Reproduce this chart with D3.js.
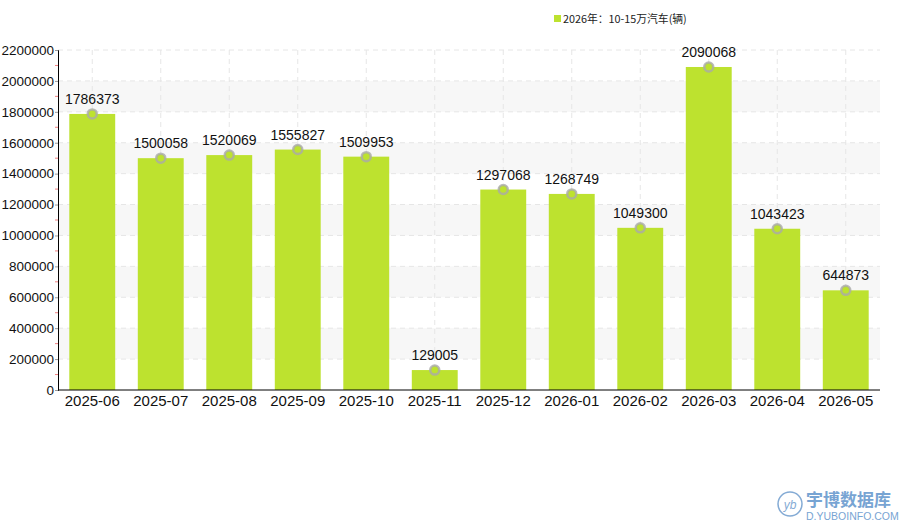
<!DOCTYPE html>
<html><head><meta charset="utf-8">
<script src="https://cdn.jsdelivr.net/npm/d3@7"></script>
<style>body{margin:0;background:#fff;}svg{display:block;font-family:"Liberation Sans",Arial,sans-serif;}</style>
</head><body>
<script>
const categories=["2025-06","2025-07","2025-08","2025-09","2025-10","2025-11","2025-12","2026-01","2026-02","2026-03","2026-04","2026-05"];
const values=[1786373,1500058,1520069,1555827,1509953,129005,1297068,1268749,1049300,2090068,1043423,644873];
const yTicks=[0,200000,400000,600000,800000,1000000,1200000,1400000,1600000,1800000,2000000,2200000];
const seriesName="2026年：10-15万汽车(辆)";

const W=900,H=530,L=58,R=880,T=50,B=390;
const svg=d3.select("body").append("svg").attr("width",W).attr("height",H);
const x=d3.scaleBand().domain(categories).range([L,R]).paddingInner(0.33).paddingOuter(0.165);
const y=d3.scaleLinear().domain([0,2200000]).range([B,T]);

// bands
for(let i=1;i<yTicks.length-1;i+=2){
  svg.append("rect").attr("x",L).attr("width",R-L).attr("y",y(yTicks[i+1])).attr("height",y(yTicks[i])-y(yTicks[i+1])).attr("fill","#f7f7f7");
}
// horizontal grid
svg.append("g").selectAll("line").data(yTicks.slice(1)).join("line")
 .attr("x1",L).attr("x2",R).attr("y1",d=>y(d)).attr("y2",d=>y(d))
 .attr("stroke","#e6e6e6").attr("stroke-dasharray","5,4");
// vertical grid
svg.append("g").selectAll("line").data(categories).join("line")
 .attr("x1",d=>x(d)+x.bandwidth()/2).attr("x2",d=>x(d)+x.bandwidth()/2).attr("y1",T).attr("y2",B)
 .attr("stroke","#e6e6e6").attr("stroke-dasharray","5,4");

// bars
svg.append("g").selectAll("rect").data(values).join("rect")
 .attr("x",(d,i)=>x(categories[i])).attr("width",x.bandwidth())
 .attr("y",d=>y(d)).attr("height",d=>B-y(d)).attr("fill","#bde22f");

// y axis
const ya=svg.append("g").attr("transform",`translate(${L},0)`)
 .call(d3.axisLeft(y).tickValues(yTicks).tickSize(3).tickFormat(d3.format("d")));
ya.select(".domain").attr("stroke","#000");
ya.selectAll(".tick line").attr("stroke","#999");
ya.selectAll("text").attr("font-size",13.5).attr("fill","#111").attr("x",-4);
// minor ticks
const minor=yTicks.slice(0,-1).map(d=>d+100000);
svg.append("g").selectAll("line").data(minor).join("line")
 .attr("x1",L-3).attr("x2",L).attr("y1",d=>y(d)).attr("y2",d=>y(d)).attr("stroke","#f08080");

// x axis
const xa=svg.append("g").attr("transform",`translate(0,${B})`)
 .call(d3.axisBottom(x).tickSize(0).tickPadding(5));
xa.select(".domain").attr("stroke","#000").attr("d",`M${L},0H${R}`);
xa.selectAll("text").attr("font-size",15).attr("fill","#111");

// markers
svg.append("g").selectAll("circle").data(values).join("circle")
 .attr("cx",(d,i)=>x(categories[i])+x.bandwidth()/2).attr("cy",d=>y(d))
 .attr("r",4.5).attr("fill","#bde22f").attr("stroke","#aaa").attr("stroke-opacity",0.8).attr("stroke-width",2.5);
// labels
svg.append("g").selectAll("text").data(values).join("text")
 .attr("x",(d,i)=>x(categories[i])+x.bandwidth()/2).attr("y",d=>y(d)-10)
 .attr("text-anchor","middle").attr("font-size",14).attr("fill","#111").text(d=>d);

// legend
svg.append("rect").attr("x",554).attr("y",15).attr("width",7).attr("height",7).attr("fill","#bde22f");
svg.append("text").attr("x",563).attr("y",22.5).attr("font-size",10.8).attr("fill","#222")
 .attr("font-family","'Noto Sans CJK SC',sans-serif").text(seriesName);

// watermark
const wm=svg.append("g").attr("opacity",0.75);
wm.append("circle").attr("cx",790).attr("cy",504).attr("r",12).attr("fill","none").attr("stroke","#5b8fc7").attr("stroke-width",1.5);
wm.append("text").attr("x",790).attr("y",509).attr("text-anchor","middle").attr("font-size",12).attr("font-style","italic").attr("fill","#5b8fc7").text("yb");
wm.append("text").attr("x",806).attr("y",506).attr("font-size",17).attr("fill","#4a86c5").attr("font-family","'Noto Sans CJK SC',sans-serif").attr("font-weight","bold").text("宇博数据库");
wm.append("text").attr("x",806).attr("y",520).attr("font-size",10.5).attr("fill","#4a86c5").text("D.YUBOINFO.COM");
</script>
</body></html>
